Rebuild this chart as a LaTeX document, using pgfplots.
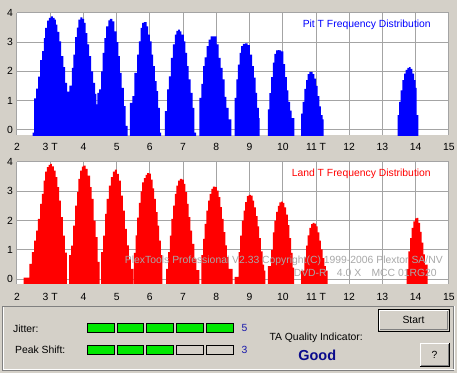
\documentclass[border=0pt]{standalone}
\usepackage{fontspec}
\setmainfont{Liberation Sans}
\usepackage{pgfplots}
\pgfplotsset{compat=1.18}
\definecolor{winbg}{RGB}{212,208,200}
\definecolor{gridgray}{RGB}{164,164,164}
\definecolor{tgreen}{RGB}{0,190,0}
\definecolor{wmgray}{RGB}{168,168,168}
\definecolor{lampgreen}{RGB}{0,232,0}
\definecolor{digitblue}{RGB}{20,20,170}
\definecolor{goodblue}{RGB}{10,10,140}
\definecolor{darkedge}{RGB}{128,128,128}
\pgfplotsset{
  plexstyle/.style={
    scale only axis, width=433pt,
    xmin=2, xmax=15, ymax=4,
    axis background/.style={fill=white},
    axis line style={draw=none},
    tick style={draw=none},
    major tick length=0pt,
    grid=major,
    major grid style={gridgray, line width=1pt},
    xtick={2,...,15},
    xticklabels={2,3 T,4,5,6,7,8,9,10,11 T,12,13,14,15},
    ytick={0,1,2,3,4},
    yticklabels={0,1,2,3,4},
    extra x ticks={3,4,5,6,7,8,9,10,11,14},
    extra x tick labels={},
    extra x tick style={grid style={tgreen, line width=1pt}, major tick length=0pt},
    tick label style={font=\fontsize{10.4}{12}\selectfont},
    yticklabel style={anchor=center, xshift=-7pt},
  }
}
\begin{document}
\begin{tikzpicture}[font=\fontsize{10.4}{12}\selectfont]
\fill[winbg] (0pt,0pt) rectangle (458pt,374pt);

% ---------- Pit ----------
\begin{axis}[plexstyle, at={(17pt,238.5pt)}, anchor=south west, height=122.5pt,
  ymin=-0.188, xticklabel style={anchor=center, yshift=-11.5pt}]
\addplot[const plot, fill=blue, draw=none] coordinates {
(2.47,-1) (2.47,-0.1) (2.52,1.07) (2.58,1.41) (2.64,1.82) (2.70,2.38) (2.76,2.69) (2.81,3.14)
(2.85,3.49) (2.91,3.74) (2.96,3.83) (3.02,3.88) (3.08,3.83) (3.13,3.77) (3.17,3.6) (3.22,3.35)
(3.28,3.03) (3.33,2.52) (3.40,2.14) (3.45,1.6) (3.51,1.3) (3.58,1.51) (3.65,2.12) (3.70,2.57)
(3.75,3.17) (3.80,3.5) (3.85,3.77) (3.91,3.85) (3.97,3.8) (4.02,3.66) (4.07,3.31) (4.12,2.92)
(4.17,2.52) (4.23,2.0) (4.29,1.6) (4.35,1.23) (4.39,0.87) (4.42,1.26) (4.47,1.38) (4.53,2.0)
(4.58,2.63) (4.63,3.14) (4.68,3.54) (4.75,3.75) (4.80,3.8) (4.87,3.71) (4.93,3.37) (5.00,3.0)
(5.05,2.52) (5.10,1.95) (5.15,1.43) (5.22,0.81) (5.27,0.13) (5.33,-1)
(5.40,0.92) (5.47,1.15) (5.53,1.95) (5.62,2.57) (5.67,3.03) (5.72,3.49) (5.77,3.66) (5.82,3.69)
(5.90,3.54) (5.95,3.26) (6.00,3.03) (6.05,2.57) (6.10,2.18) (6.15,1.66) (6.20,1.32) (6.25,0.75)
(6.30,-0.1) (6.34,-1)
(6.45,0.64) (6.52,1.38) (6.57,1.83) (6.63,2.46) (6.69,2.92) (6.75,3.26) (6.80,3.39) (6.85,3.43)
(6.90,3.37) (6.95,3.26) (7.02,3.03) (7.07,2.63) (7.12,2.18) (7.17,1.72) (7.23,1.26) (7.29,0.75)
(7.34,-0.1) (7.39,-1)
(7.49,1.09) (7.55,1.57) (7.60,2.18) (7.65,2.48) (7.71,2.86) (7.77,3.09) (7.83,3.2) (7.90,3.2)
(7.95,3.2) (8.01,2.92) (8.07,2.46) (8.13,2.12) (8.19,1.72) (8.25,1.12) (8.30,0.75) (8.37,0.35)
(8.45,-1)
(8.55,1.09) (8.60,1.72) (8.65,2.23) (8.70,2.63) (8.75,2.86) (8.80,2.94) (8.87,2.96) (8.94,2.9)
(9.01,2.57) (9.08,2.18) (9.13,1.78) (9.18,1.26) (9.23,0.75) (9.28,0.4) (9.30,-1)
(9.55,0.7) (9.60,1.25) (9.65,1.8) (9.70,2.3) (9.75,2.6) (9.80,2.72) (9.85,2.73) (9.90,2.72)
(9.95,2.68) (10.02,2.25) (10.07,1.8) (10.12,1.35) (10.17,0.95) (10.22,0.65) (10.27,0.4) (10.35,-1)
(10.55,0.55) (10.60,0.95) (10.65,1.4) (10.70,1.7) (10.75,1.9) (10.80,1.98) (10.85,1.98) (10.90,1.9)
(10.95,1.75) (11.00,1.5) (11.05,1.15) (11.10,0.8) (11.15,0.5) (11.20,0.35) (11.23,-1)
(13.46,0.5) (13.50,0.95) (13.55,1.35) (13.60,1.7) (13.65,1.92) (13.70,2.05) (13.75,2.12) (13.80,2.14)
(13.85,2.08) (13.90,1.92) (13.95,1.7) (14.00,1.43) (14.03,0.5) (14.08,-1)
} -- cycle;
\end{axis}

% ---------- Land ----------
\begin{axis}[plexstyle, at={(17pt,89.7pt)}, anchor=south west, height=122pt,
  ymin=-0.146, xticklabel style={anchor=center, yshift=-13.7pt}]
\addplot[const plot, fill=red, draw=none] coordinates {
(2.20,-1) (2.20,0.06) (2.37,0.53) (2.45,0.93) (2.52,1.32) (2.58,1.66) (2.63,2.06) (2.70,2.57)
(2.75,2.91) (2.80,3.36) (2.85,3.67) (2.90,3.82) (2.95,3.9) (3.00,3.93) (3.05,3.85) (3.11,3.7)
(3.16,3.48) (3.22,3.14) (3.27,2.68) (3.32,2.12) (3.38,1.49) (3.44,0.91) (3.50,-1)
(3.57,0.82) (3.63,1.15) (3.69,1.83) (3.75,2.51) (3.81,2.97) (3.85,3.42) (3.90,3.7) (3.95,3.84)
(4.00,3.87) (4.07,3.76) (4.13,3.53) (4.20,3.14) (4.25,2.74) (4.31,2.0) (4.37,1.44) (4.43,0.59)
(4.49,-1)
(4.53,0.93) (4.59,1.49) (4.65,2.23) (4.70,2.74) (4.77,3.19) (4.83,3.48) (4.89,3.67) (4.95,3.74)
(5.01,3.59) (5.07,3.36) (5.13,2.85) (5.19,2.34) (5.25,1.72) (5.31,1.16) (5.37,0.7) (5.43,0.36)
(5.50,-1)
(5.52,0.9) (5.57,1.5) (5.62,2.1) (5.67,2.6) (5.72,3.0) (5.77,3.3) (5.82,3.45) (5.87,3.56)
(5.92,3.62) (5.98,3.6) (6.03,3.4) (6.08,3.1) (6.13,2.74) (6.18,2.29) (6.23,1.83) (6.28,1.32)
(6.33,0.82) (6.38,-1)
(6.49,0.36) (6.55,0.93) (6.60,1.49) (6.65,2.06) (6.70,2.51) (6.75,2.91) (6.80,3.19) (6.85,3.36)
(6.90,3.42) (6.97,3.4) (7.02,3.25) (7.07,2.97) (7.12,2.57) (7.17,2.12) (7.22,1.66) (7.27,1.21)
(7.34,0.7) (7.40,0.31) (7.49,-1)
(7.55,0.82) (7.60,1.38) (7.65,1.89) (7.70,2.34) (7.75,2.68) (7.80,2.91) (7.85,3.08) (7.90,3.16)
(7.97,3.14) (8.02,3.02) (8.07,2.8) (8.12,2.46) (8.17,2.06) (8.22,1.61) (8.27,1.16) (8.32,0.76)
(8.37,0.36) (8.49,-1)
(8.55,0.08) (8.67,0.93) (8.72,1.49) (8.77,2.0) (8.82,2.34) (8.87,2.63) (8.92,2.83) (8.97,2.88)
(9.04,2.85) (9.09,2.68) (9.14,2.45) (9.19,2.15) (9.24,1.8) (9.29,1.4) (9.34,0.95) (9.39,0.5)
(9.44,0.3) (9.48,-1)
(9.55,0.45) (9.65,1.0) (9.70,1.6) (9.75,2.0) (9.80,2.3) (9.85,2.5) (9.90,2.62) (9.95,2.65)
(10.00,2.6) (10.05,2.45) (10.10,2.2) (10.15,1.85) (10.20,1.4) (10.25,0.9) (10.30,0.4) (10.34,-1)
(10.55,0.3) (10.65,0.75) (10.70,1.15) (10.75,1.5) (10.80,1.75) (10.85,1.88) (10.90,1.92) (10.95,1.9)
(11.00,1.8) (11.05,1.6) (11.10,1.32) (11.15,1.02) (11.20,0.72) (11.25,0.45) (11.30,0.3) (11.35,-1)
(13.73,0.35) (13.78,0.95) (13.83,1.4) (13.88,1.75) (13.93,1.97) (13.98,2.08) (14.03,2.09) (14.08,1.92)
(14.13,1.62) (14.18,1.25) (14.23,0.85) (14.28,0.5) (14.36,-1)
} -- cycle;
\end{axis}

\begin{scope}[x=1pt, y=1pt]
% ---------- titles and watermark ----------
\node[anchor=east, inner sep=0, text=blue] at (432,349) {Pit T Frequency Distribution};
\node[anchor=east, inner sep=0, text=red] at (432,200) {Land T Frequency Distribution};
\node[anchor=east, inner sep=0, text=wmgray] at (444,113) {PlexTools Professional V2.33 Copyright(C) 1999-2006 Plextor SA/NV};
\node[anchor=east, inner sep=0, text=wmgray] at (438,100.7) {DVD-R\quad 4.0 X\quad MCC 01RG20};

% ---------- bottom panel ----------
\draw[darkedge, line width=1pt] (3,67) rectangle (455,2.5);
\draw[white, line width=1pt] (4,66) -- (4,3.5) -- (456,3.5) -- (456,67);
\node[anchor=west, inner sep=0] at (13,44.7) {Jitter:};
\node[anchor=west, inner sep=0] at (15,23.3) {Peak Shift:};
\foreach \i in {0,...,4} {
  \filldraw[fill=lampgreen, draw=black, line width=1pt] (87.3+30*\i,40.7) rectangle (114.3+30*\i,49.7);
}
\foreach \i in {0,1,2} {
  \filldraw[fill=lampgreen, draw=black, line width=1pt] (87.3+30*\i,18.7) rectangle (114.3+30*\i,27.7);
}
\foreach \i in {3,4} {
  \filldraw[fill=winbg, draw=black, line width=1pt] (87.3+30*\i,18.7) rectangle (114.3+30*\i,27.7);
}
\node[text=digitblue, inner sep=0] at (245,45) {5};
\node[text=digitblue, inner sep=0] at (245,23.3) {3};
\node[anchor=west, inner sep=0] at (270,35.7) {TA Quality Indicator:};
\node[text=goodblue, inner sep=0, font=\fontsize{14.5}{16}\selectfont\bfseries] at (318,18) {Good};
% Start button
\draw[black, line width=1pt] (379.5,41.7) rectangle (450.5,64.2);
\draw[white, line width=1pt] (380.5,42.7) -- (380.5,63.2) -- (449.5,63.2);
\draw[darkedge, line width=1pt] (381,43.2) -- (449,43.2) -- (449,62.5);
\node[inner sep=0] at (414.5,52.8) {Start};
% ? button
\draw[white, line width=1pt] (421.5,7.3) -- (421.5,30) -- (450.5,30);
\draw[black, line width=1pt] (421.5,7) -- (450.5,7) -- (450.5,30);
\draw[darkedge, line width=1pt] (422.5,8) -- (449.5,8) -- (449.5,29);
\node[inner sep=0] at (435.5,18.7) {?};
\end{scope}
\end{tikzpicture}
\end{document}
